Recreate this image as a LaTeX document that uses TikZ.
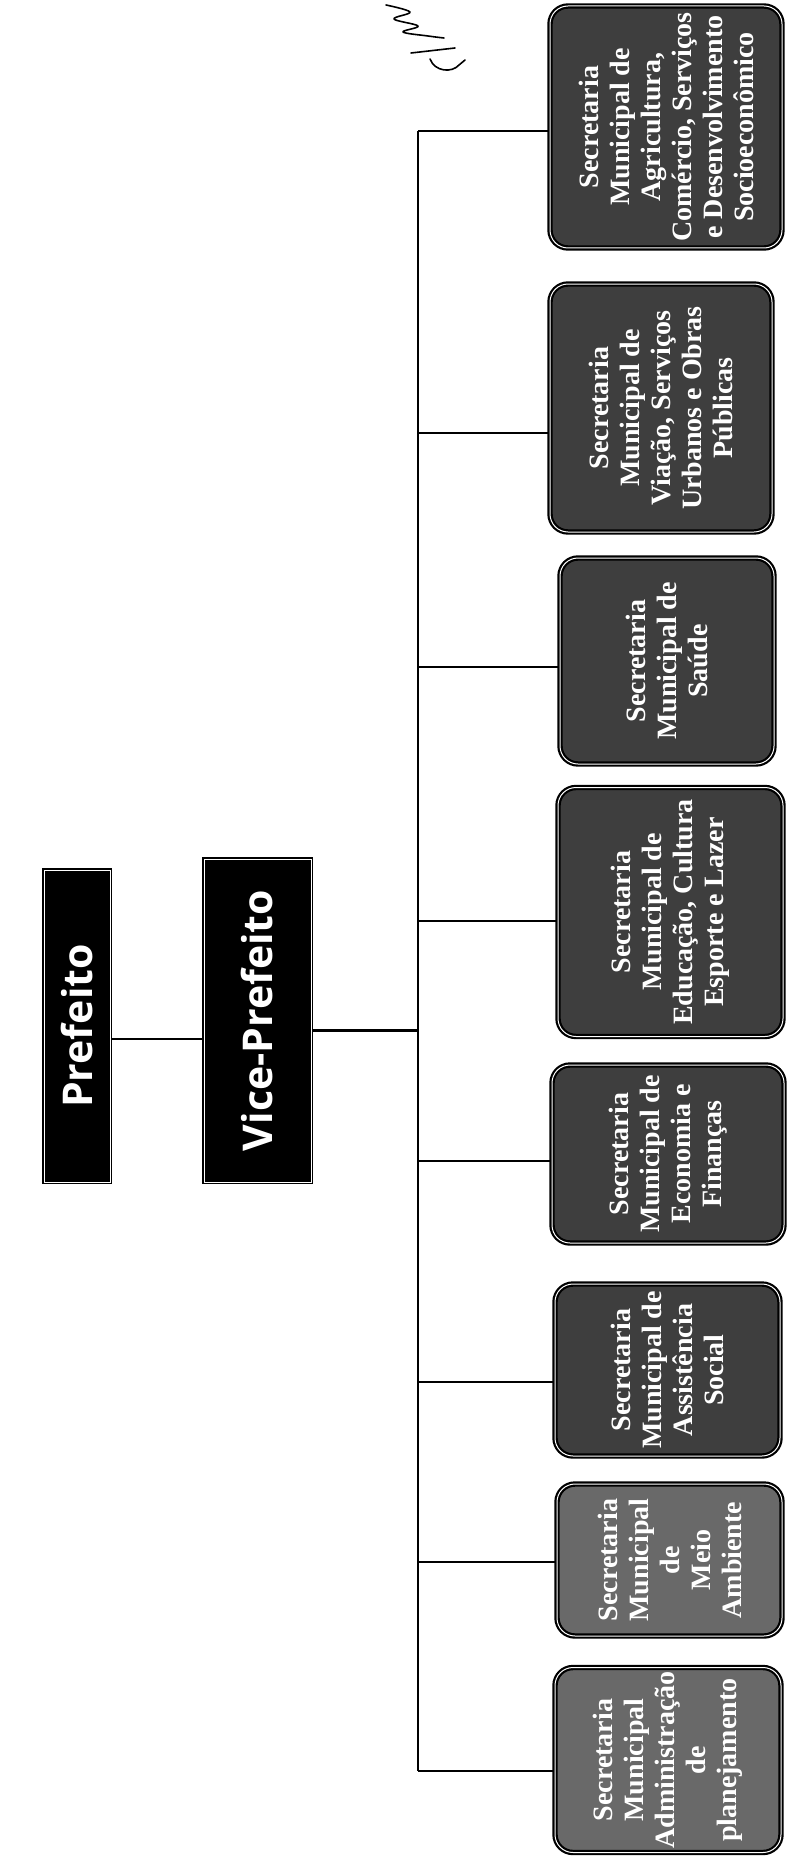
\documentclass[tikz,border=0pt]{standalone}
\usepackage{fontspec}
\setmainfont{Liberation Serif}
\newfontfamily\headfont{Open Sans}
\usepackage{tikz}
\usetikzlibrary{positioning,calc}
\definecolor{secfill}{RGB}{62,62,62}
\definecolor{secfilllight}{RGB}{105,105,105}
\tikzset{
    headbox/.style={
        draw=black,
        line width=1.6pt,
        double=white,
        double distance=0.6pt,
        fill=black,
        text=white,
        rotate=90,
        inner sep=0pt,
        font=\headfont\bfseries\fontsize{41}{45}\selectfont
    },
    secbox/.style={
        draw=black,
        line width=2.2pt,
        double=white,
        double distance=1pt,
        rounded corners=18pt,
        fill=secfill,
        text=white,
        rotate=90,
        align=center,
        inner sep=2pt,
        font=\bfseries\fontsize{28}{31}\selectfont
    },
    lightbox/.style={
        secbox,
        fill=secfilllight
    },
    link/.style={
        line width=2.4pt
    },
    branch/.style={
        line width=1.3pt
    },
    pen/.style={
        line width=1.6pt,
        line cap=round,
        line join=round
    }
}

\begin{document}
\begin{tikzpicture}[x=1pt, y=-1pt]
    \useasboundingbox (0,0) rectangle (787,1862);

    \node[headbox, minimum width=312pt, minimum height=66pt] (pref) at (77,1026) {Prefeito};
    \node[headbox, minimum width=323pt, minimum height=107pt] (vice) at (257.5,1020.5) {Vice-Prefeito};

    \node[lightbox, minimum width=185pt, minimum height=226pt] (s1) at (668,1760) {Secretaria\\Municipal\\Administração\\de\\planejamento};
    \node[lightbox, minimum width=152pt, minimum height=225pt] (s2) at (669.5,1560) {Secretaria\\Municipal\\de\\Meio\\Ambiente};
    \node[secbox, minimum width=172pt, minimum height=225pt] (s3) at (667.5,1370) {Secretaria\\Municipal de\\Assistência\\Social};
    \node[secbox, minimum width=178pt, minimum height=232pt] (s4) at (668,1154) {Secretaria\\Municipal de\\Economia e\\Finanças};
    \node[secbox, minimum width=249pt, minimum height=225pt] (s5) at (670.5,912) {Secretaria\\Municipal de\\Educação, Cultura\\Esporte e Lazer};
    \node[secbox, minimum width=206pt, minimum height=214pt] (s6) at (667,661) {Secretaria\\Municipal de\\Saúde};
    \node[secbox, minimum width=248pt, minimum height=222pt] (s7) at (661,408) {Secretaria\\Municipal de\\Viação, Serviços\\Urbanos e Obras\\Públicas};
    \node[secbox, minimum width=242pt, minimum height=232pt] (s8) at (666,127) {Secretaria\\Municipal de\\Agricultura,\\Comércio, Serviços\\e Desenvolvimento\\Socioeconômico};

    \coordinate (busx) at (418,0);
    \coordinate (preflink) at ([yshift=-13pt]pref.south);
    \coordinate (vicelink) at ([yshift=-10pt]vice.south);

    \draw[link] (preflink) -- (preflink -| vice.north);
    \draw[link] (vicelink) -- (vicelink -| busx);
    \draw[branch] ([yshift=-4pt]s8.north -| busx) -- ([yshift=-11pt]s1.north -| busx);
    \foreach \s/\d in {s1/11,s2/2,s3/12,s4/7,s5/9,s6/6,s7/25,s8/4}
        \draw[branch] ([yshift=-\d pt]\s.north -| busx) -- ([yshift=-\d pt]\s.north);

    % scribble in the top margin
    \draw[pen] plot[smooth, tension=0.6] coordinates {(386,5) (410,12) (394,19) (418,26) (403,32) (428,36) (444,38)};
    \draw[pen] (411,53) -- (455,48);
    \draw[pen] (430,59) .. controls (435,72) and (452,73) .. (459,65) -- (465,60);
\end{tikzpicture}
\end{document}
